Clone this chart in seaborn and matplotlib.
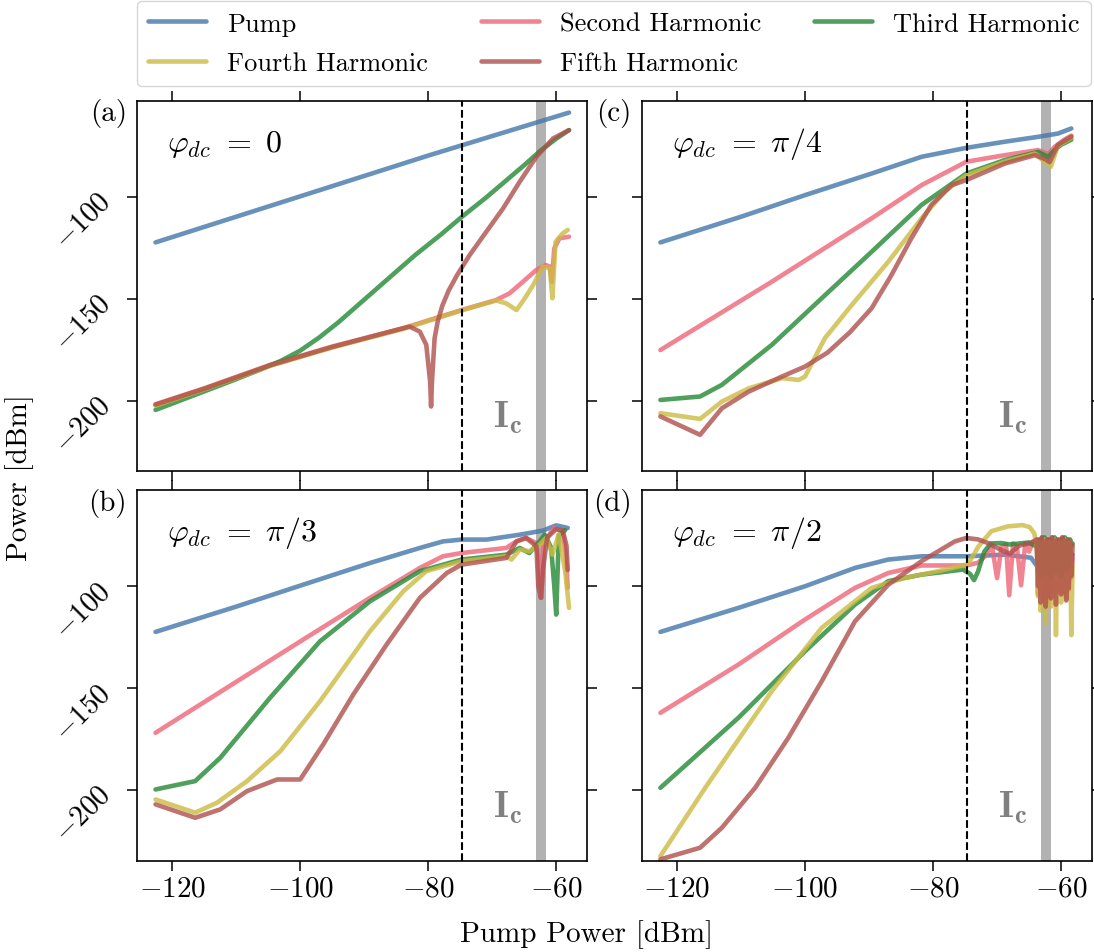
import matplotlib
matplotlib.use("Agg")
import matplotlib.pyplot as plt
from matplotlib.lines import Line2D
import seaborn as sns

# ---------------- data ----------------
labels = ["Pump", "Second Harmonic", "Third Harmonic", "Fourth Harmonic", "Fifth Harmonic"]
colors = ["#4477AA", "#EE6677", "#228833", "#CCBB44", "#B0504C"]
panel_tags = ["(a)", "(b)", "(c)", "(d)"]
panel_phis = [r"$\varphi_{dc}\ =\ 0$", r"$\varphi_{dc}\ =\ \pi/3$",
              r"$\varphi_{dc}\ =\ \pi/4$", r"$\varphi_{dc}\ =\ \pi/2$"]
x_ticks = [-120, -100, -80, -60]
y_ticks = [-200, -150, -100]
dashed_x = -74.7
ic_band = [-63.1, -61.6]

# panel (a)  phi = 0
a_pump_x = [-122.6, -100.0, -80.0, -58.0]
a_pump_y = [-122.4, -99.8, -79.8, -58.7]
a_h2_x = [-122.6, -115.0, -104.7, -95.0, -83.9, -74.8, -69.4, -67.3, -65.2, -63.1, -61.6, -61.0, -60.7, -60.3, -59.5, -58.0]
a_h2_y = [-201.8, -194.0, -182.5, -173.5, -164.5, -155.6, -150.7, -147.4, -141.7, -135.9, -133.5, -134.3, -141.7, -125.3, -120.4, -119.6]
a_h3_x = [-122.6, -115.0, -110.0, -106.0, -103.0, -100.0, -97.0, -94.0, -90.0, -86.0, -82.0, -78.0, -74.8, -71.0, -68.0, -65.0, -62.5, -60.0, -58.0]
a_h3_y = [-204.6, -195.5, -189.5, -184.5, -180.5, -175.5, -169.0, -161.5, -150.5, -139.5, -128.5, -118.5, -110.0, -100.5, -92.5, -84.5, -77.5, -71.5, -67.3]
a_h4_x = [-122.6, -115.0, -104.7, -95.0, -83.9, -74.8, -69.4, -67.8, -66.2, -64.9, -63.6, -62.1, -61.0, -60.6, -60.1, -59.0, -58.2]
a_h4_y = [-202.5, -194.5, -183.0, -174.0, -164.8, -155.8, -150.9, -152.3, -155.6, -149.8, -143.3, -134.3, -135.1, -149.8, -122.1, -118.0, -116.3]
a_h5_x = [-122.6, -115.0, -104.7, -95.0, -84.5, -82.9, -81.3, -80.3, -79.7, -79.55, -79.4, -79.0, -78.5, -77.8, -76.8, -75.5, -73.5, -71.0, -68.3, -65.7, -63.1, -60.5, -58.0]
a_h5_y = [-202.0, -194.2, -182.7, -173.7, -165.0, -163.7, -166.2, -172.7, -190.7, -202.9, -190.0, -169.4, -161.0, -153.5, -146.0, -138.5, -128.5, -117.5, -105.7, -92.6, -80.4, -71.4, -67.3]

# panel (b)  phi = pi/3
b_pump_x = [-122.6, -110.0, -99.5, -89.1, -81.3, -77.7, -74.8, -70.9, -65.7, -62.1, -60.0, -58.2]
b_pump_y = [-122.4, -110.0, -99.2, -88.6, -81.2, -78.0, -77.1, -77.1, -74.7, -72.7, -70.1, -71.4]
b_h2_x = [-122.6, -99.5, -89.1, -81.3, -77.7, -74.8, -67.8, -66.2, -64.7, -63.1, -62.6, -62.3, -62.0, -61.4, -60.4, -59.0, -58.5, -58.2]
b_h2_y = [-171.9, -126.1, -105.7, -91.0, -85.3, -83.7, -81.2, -77.9, -76.3, -78.8, -90.0, -105.7, -78.0, -76.3, -71.5, -73.0, -84.5, -100.8]
b_h3_x = [-122.6, -116.4, -112.5, -104.7, -96.9, -89.1, -81.3, -74.8, -67.8, -65.7, -64.2, -62.6, -61.8, -60.8, -60.3, -60.0, -59.6, -58.6]
b_h3_y = [-199.7, -195.6, -184.2, -154.7, -127.0, -107.4, -92.6, -86.9, -84.5, -81.2, -83.7, -78.0, -74.7, -81.0, -100.0, -113.9, -75.0, -72.5]
b_h4_x = [-122.6, -116.4, -113.0, -108.3, -103.1, -96.9, -89.1, -83.9, -80.3, -74.8, -67.8, -67.0, -65.7, -64.2, -62.6, -61.6, -60.6, -59.6, -58.6, -58.0]
b_h4_y = [-204.6, -211.1, -206.2, -195.6, -180.9, -156.4, -122.1, -102.5, -92.6, -87.7, -85.3, -86.9, -82.0, -82.8, -79.6, -76.3, -84.5, -74.5, -92.6, -110.6]
b_h5_x = [-122.6, -116.4, -112.5, -108.3, -103.6, -100.0, -96.4, -91.7, -86.5, -81.3, -77.1, -74.8, -67.8, -66.2, -64.7, -63.1, -62.8, -62.4, -62.0, -61.4, -60.0, -59.0, -58.4, -58.2]
b_h5_y = [-207.0, -213.6, -209.5, -200.5, -194.8, -194.8, -177.6, -153.1, -128.6, -105.7, -93.5, -89.4, -86.1, -78.0, -76.3, -80.4, -100.0, -105.7, -90.0, -76.0, -72.0, -72.5, -80.0, -92.0]

# panel (c)  phi = pi/4
c_pump_x = [-122.6, -110.0, -100.0, -89.6, -81.8, -74.8, -68.8, -63.6, -60.5, -58.4]
c_pump_y = [-122.4, -109.8, -99.2, -88.6, -80.4, -76.0, -73.0, -70.6, -69.0, -66.5]
c_h2_x = [-122.6, -105.2, -89.6, -81.8, -74.8, -68.8, -63.6, -62.0, -61.0, -59.5, -58.4]
c_h2_y = [-175.2, -141.7, -110.6, -94.3, -82.8, -79.6, -77.1, -79.0, -75.5, -72.0, -70.0]
c_h3_x = [-122.6, -116.4, -113.0, -105.2, -97.4, -89.6, -81.8, -74.8, -68.8, -63.6, -62.0, -61.0, -60.0, -58.4]
c_h3_y = [-199.7, -198.0, -192.3, -172.7, -149.8, -127.0, -104.0, -88.6, -82.0, -78.0, -80.5, -77.0, -74.5, -72.0]
c_h4_x = [-122.6, -116.4, -113.0, -108.8, -103.6, -101.0, -100.0, -96.9, -92.7, -87.0, -81.8, -78.2, -74.8, -68.8, -64.1, -62.5, -61.6, -60.5, -58.4]
c_h4_y = [-206.2, -209.0, -200.5, -194.0, -189.0, -189.9, -188.2, -169.4, -153.1, -131.9, -110.6, -97.5, -89.4, -82.8, -78.8, -83.0, -85.3, -75.0, -71.0]
c_h5_x = [-122.6, -116.4, -113.0, -108.8, -103.6, -100.0, -96.5, -93.0, -89.6, -86.5, -83.4, -80.3, -77.1, -74.8, -68.8, -64.1, -62.5, -61.8, -60.5, -58.4]
c_h5_y = [-207.8, -216.8, -203.8, -195.6, -188.2, -183.3, -176.5, -166.5, -154.7, -138.4, -120.4, -104.1, -94.3, -91.8, -83.7, -79.6, -81.5, -83.0, -74.5, -70.5]

# panel (d)  phi = pi/2
d_pump_x = [-122.6, -110.4, -100.0, -92.2, -87.0, -81.8, -74.8, -68.8, -64.7, -63.9, -63.0, -61.5, -60.0, -58.2]
d_pump_y = [-122.4, -110.6, -100.0, -91.0, -86.9, -85.3, -85.3, -84.5, -86.0, -89.5, -84.0, -83.5, -84.0, -84.5]
d_h2_x = [-122.6, -110.4, -100.0, -92.2, -87.0, -81.8, -74.8, -73.0, -71.8, -70.8, -70.0, -69.3, -68.6, -68.1, -67.5, -66.9, -66.25, -65.6, -65.0, -64.4]
d_h2_y = [-162.1, -138.4, -116.3, -100.8, -93.5, -89.8, -89.8, -88.5, -85.0, -80.0, -96.0, -80.5, -79.5, -104.4, -79.0, -80.5, -99.5, -79.0, -83.0, -78.0]
d_h3_x = [-122.6, -110.4, -100.0, -92.2, -87.0, -81.8, -75.3, -74.2, -73.6, -73.0, -72.0, -71.0, -69.4, -68.0, -66.5, -65.0, -64.2]
d_h3_y = [-198.9, -164.5, -131.9, -109.0, -97.5, -94.3, -91.8, -94.0, -97.0, -93.0, -83.0, -79.0, -78.8, -79.5, -79.0, -78.5, -80.0]
d_h4_x = [-122.6, -115.6, -105.2, -97.4, -89.6, -84.4, -79.2, -75.3, -74.5, -72.9, -70.9, -68.3, -66.0, -64.9, -64.2]
d_h4_y = [-232.4, -198.9, -151.5, -120.4, -100.8, -95.9, -92.6, -89.8, -89.0, -80.4, -73.0, -70.6, -70.0, -71.0, -74.0]
d_h5_x = [-122.6, -116.4, -113.0, -107.8, -102.6, -97.4, -92.2, -87.0, -81.8, -76.6, -74.8, -73.0, -71.4, -69.5, -68.0, -66.5, -65.0, -64.2]
d_h5_y = [-234.0, -228.3, -218.5, -198.9, -174.3, -146.6, -117.2, -99.2, -87.7, -78.0, -76.3, -77.0, -78.8, -82.0, -84.0, -80.0, -79.0, -78.0]
# dense oscillations near I_c in panel (d)
d_dense_x = [-63.8, -63.6, -63.4, -63.2, -63.0, -62.8, -62.6, -62.4, -62.2, -62.0, -61.8, -61.6, -61.4, -61.2,
             -61.0, -60.8, -60.6, -60.4, -60.2, -60.0, -59.8, -59.6, -59.4, -59.2, -59.0, -58.8, -58.6, -58.4, -58.2]
d_dense_h2 = [-77, -104, -78, -102, -76, -106, -79, -100, -77, -107, -78, -98, -76, -105, -79,
              -101, -77, -103, -78, -97, -76, -104, -79, -99, -77, -102, -78, -96, -86]
d_dense_h3 = [-78, -92, -77, -95, -79, -90, -76, -94, -78, -91, -77, -96, -79, -89, -76,
              -93, -78, -90, -77, -95, -79, -88, -76, -92, -78, -90, -77, -80, -79]
d_dense_h4 = [-80, -105, -78, -112, -80, -100, -77, -118, -79, -104, -78, -110, -80, -98, -77,
              -124, -79, -102, -78, -108, -80, -99, -77, -106, -79, -100, -78, -124, -90]
d_dense_h5 = [-77, -100, -78, -108, -76, -96, -79, -110, -77, -102, -78, -106, -76, -98, -79,
              -109, -77, -100, -78, -104, -76, -97, -79, -107, -77, -101, -78, -95, -80]

panels = [
    [(a_pump_x, a_pump_y), (a_h2_x, a_h2_y), (a_h3_x, a_h3_y), (a_h4_x, a_h4_y), (a_h5_x, a_h5_y)],
    [(b_pump_x, b_pump_y), (b_h2_x, b_h2_y), (b_h3_x, b_h3_y), (b_h4_x, b_h4_y), (b_h5_x, b_h5_y)],
    [(c_pump_x, c_pump_y), (c_h2_x, c_h2_y), (c_h3_x, c_h3_y), (c_h4_x, c_h4_y), (c_h5_x, c_h5_y)],
    [(d_pump_x, d_pump_y), (d_h2_x + d_dense_x, d_h2_y + d_dense_h2), (d_h3_x + d_dense_x, d_h3_y + d_dense_h3),
     (d_h4_x + d_dense_x, d_h4_y + d_dense_h4), (d_h5_x + d_dense_x, d_h5_y + d_dense_h5)],
]

# ---------------- style ----------------
sns.set_style("ticks")
plt.rcParams.update({
    "font.family": ["cmr10", "DejaVu Serif"],
    "mathtext.fontset": "cm",
    "axes.formatter.use_mathtext": True,
    "axes.unicode_minus": True,
    "axes.edgecolor": "black",
    "axes.linewidth": 1.2,
    "xtick.color": "black",
    "ytick.color": "black",
    "text.color": "black",
})

LW = 3.3
ALPHA = 0.8
FS = 21

fig = plt.figure(figsize=(10.94, 9.53), dpi=100)
axes = fig.subplots(2, 2, sharex=True, sharey=True)
fig.subplots_adjust(left=0.1252, right=0.998, bottom=0.0955, top=0.893, wspace=0.122, hspace=0.0512)

ax_order = [axes[0, 0], axes[1, 0], axes[0, 1], axes[1, 1]]
for k, ax in enumerate(ax_order):
    ax.axvspan(ic_band[0], ic_band[1], color="gray", alpha=0.6, lw=0, zorder=0)
    for (xs, ys), col in zip(panels[k], colors):
        sns.lineplot(x=xs, y=ys, ax=ax, color=col, lw=LW, alpha=ALPHA,
                     estimator=None, sort=False, legend=False)
    ax.axvline(dashed_x, color="black", ls="--", lw=1.5, zorder=5)
    ax.text(0.067, 0.866, panel_phis[k], transform=ax.transAxes, fontsize=23,
            ha="left", va="baseline")
    ax.text(-0.022, 0.968, panel_tags[k], transform=ax.transAxes, fontsize=21,
            ha="right", va="center")
    ax.text(-67.5, -208, r"$\mathbf{I_c}$", color="gray", fontsize=27,
            ha="center", va="center")
    ax.set_xlim(-125.5, -55.2)
    ax.set_ylim(-234.8, -53)
    ax.set_xticks(x_ticks)
    ax.set_yticks(y_ticks)
    ax.tick_params(direction="out", top=True, right=True, length=7, width=1.1,
                   labelsize=FS)
    ax.tick_params(axis="x", pad=3)
    ax.tick_params(axis="y", pad=15)
    for s in ax.spines.values():
        s.set_visible(True)
        s.set_linewidth(1.2)
    ax.set_xlabel("")
    ax.set_ylabel("")

for ax in [axes[0, 0], axes[1, 0]]:
    for lab in ax.get_yticklabels():
        lab.set_rotation(45)
        lab.set_rotation_mode("anchor")
        lab.set_ha("right")
        lab.set_va("center")

fig.text(0.536, 0.019, "Pump Power [dBm]", ha="center", va="center", fontsize=FS)
fig.text(0.0175, 0.4985, "Power [dBm]", ha="center", va="center", rotation=90, fontsize=FS)

handles = [Line2D([], [], color=c, lw=LW, alpha=ALPHA) for c in colors]
order = [0, 3, 1, 4, 2]
fig.legend([handles[i] for i in order], [labels[i] for i in order],
           loc="upper center", bbox_to_anchor=(0.561, 0.998), ncol=3, fontsize=19,
           handlelength=2.2, columnspacing=2.0, frameon=True, fancybox=True,
           edgecolor="0.8", borderpad=0.42, labelspacing=0.6, borderaxespad=0.0)

fig.savefig("out.png", dpi=100)
